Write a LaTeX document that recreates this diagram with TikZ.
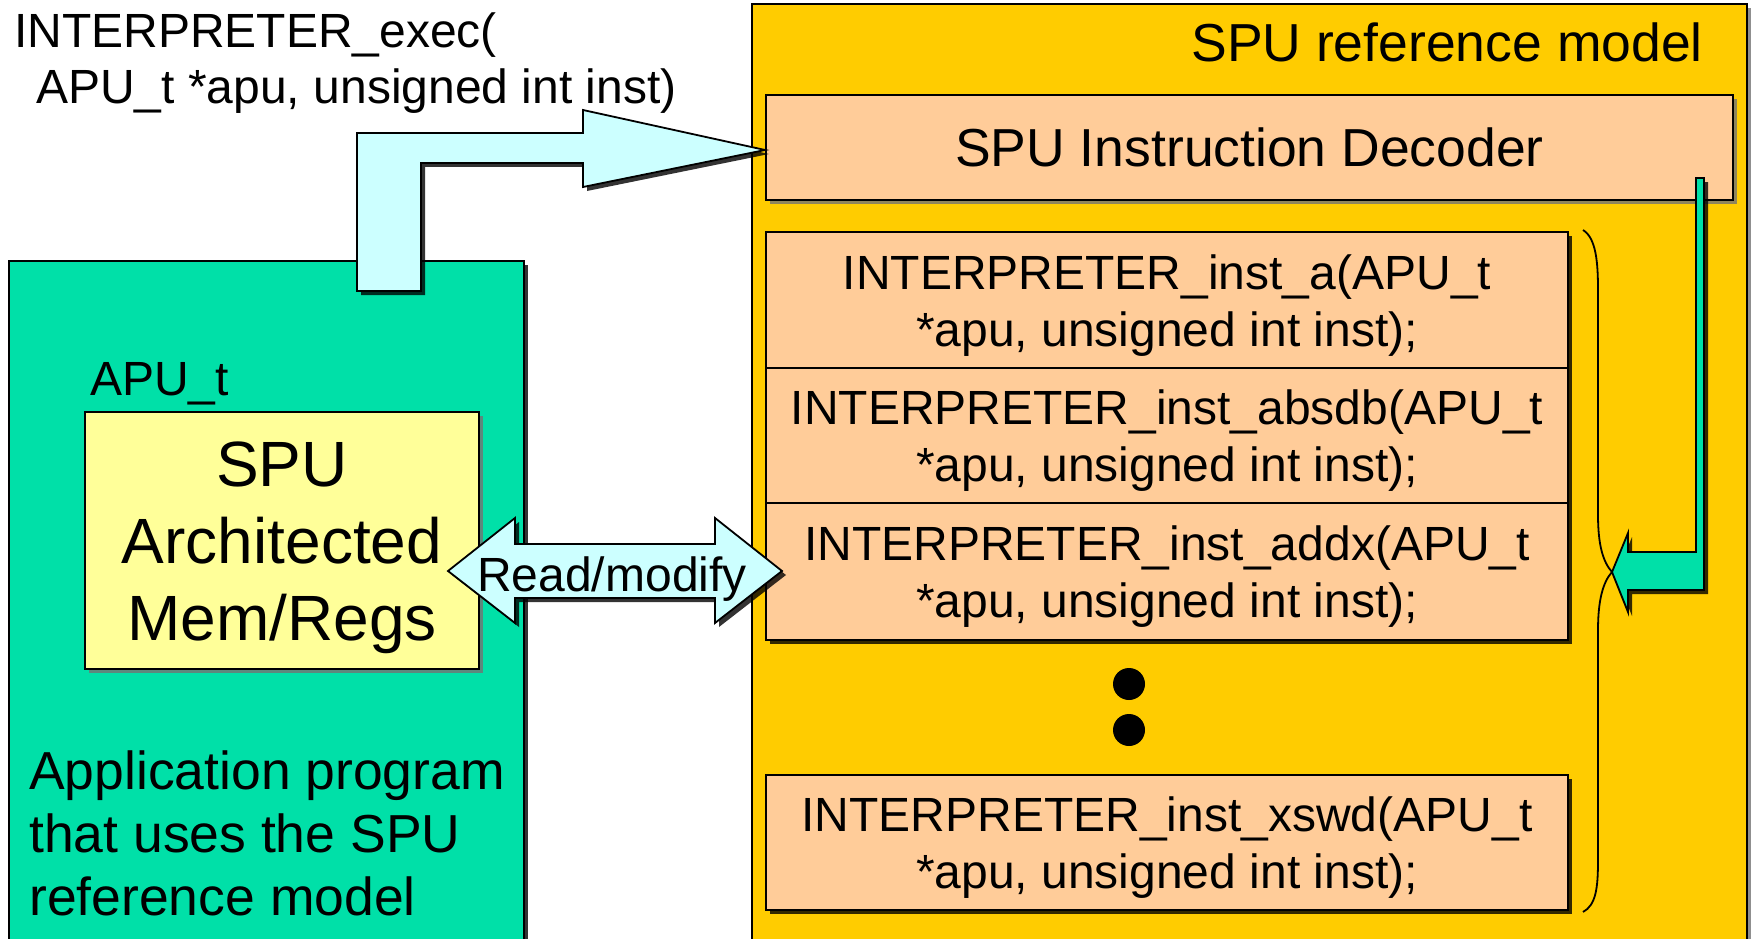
\documentclass[tikz,border=0pt]{standalone}
\usepackage{fontspec}
\setmainfont{Liberation Sans}
\usetikzlibrary{shadows,calc}
\definecolor{gold}{HTML}{FFCC00}
\definecolor{appgreen}{HTML}{00E0A8}
\definecolor{icecyan}{HTML}{CCFFFF}
\definecolor{peach}{HTML}{FFCC99}
\definecolor{paleyellow}{HTML}{FFFF99}
\tikzset{
  outline/.style={draw=black, line width=1.8pt},
  darkshadow/.style={drop shadow={shadow xshift=4pt, shadow yshift=-4pt, fill=black, opacity=0.8}},
  greyshadow/.style={drop shadow={shadow xshift=4pt, shadow yshift=-4pt, fill=black!55, opacity=0.8}},
  panel/.style={rectangle, outline, inner sep=0pt},
  instbox/.style={panel, fill=peach, darkshadow, minimum width=802pt, align=center,
    font=\fontsize{48}{57}\selectfont, text height=92pt, text depth=0pt},
  bodytext/.style={inner sep=0pt, font=\fontsize{48}{57}\selectfont},
  bigtext/.style={inner sep=0pt, font=\fontsize{53.5}{63}\selectfont},
  blockarrow/.style={outline, line join=miter},
  dot/.style={circle, fill=black, inner sep=0pt, minimum size=32pt},
}
\begin{document}
\begin{tikzpicture}[x=1pt, y=-1pt]
\path[use as bounding box, clip] (0,0) rectangle (1754,939);
\fill[white] (0,0) rectangle (1754,939);

% application program panel
\node[panel, fill=appgreen, darkshadow, minimum width=515pt, minimum height=684pt] (app) at (266.5,603) {};
\node[bigtext, anchor=base west, align=left] (apptext) at (29,915)
  {Application program\\that uses the SPU\\reference model};

% reference model panel
\node[panel, fill=gold, greyshadow, minimum width=995pt, minimum height=941pt] (model) at (1249.5,474.5) {};
\node[bigtext, anchor=base east] (modeltitle) at (1703,62) {SPU reference model};

% decoder
\node[panel, fill=peach, greyshadow, minimum width=967pt, minimum height=105pt,
  font=\fontsize{53.5}{63}\selectfont, text height=38pt, text depth=0pt] (dec) at (1249.5,147.5)
  {SPU Instruction Decoder};

% instruction handlers
\node[instbox, minimum height=136pt] (ia) at (1167,300)
  {INTERPRETER\_inst\_a(APU\_t\\*apu, unsigned int inst);};
\node[instbox, minimum height=135pt] (iabsdb) at (1167,435.5)
  {INTERPRETER\_inst\_absdb(APU\_t\\*apu, unsigned int inst);};
\node[instbox, minimum height=137pt] (iaddx) at (1167,571.5)
  {INTERPRETER\_inst\_addx(APU\_t\\*apu, unsigned int inst);};
\node[instbox, minimum height=135pt] (ixswd) at (1167,842.5)
  {INTERPRETER\_inst\_xswd(APU\_t\\*apu, unsigned int inst);};

% ellipsis dots
\node[dot] (dota) at (1129,684) {};
\node[dot] (dotb) at (1129,730) {};

% architected state
\node[bodytext, anchor=base west] (apulabel) at (90,395) {APU\_t};
\node[panel, fill=paleyellow, greyshadow, minimum width=394pt, minimum height=257pt,
  align=center, font=\fontsize{64}{77}\selectfont, text height=200pt, text depth=0pt] (regs) at (282,540.5)
  {SPU\\Architected\\Mem/Regs};

% call into the model
\node[bodytext, anchor=base west, align=left, font=\fontsize{48}{56}\selectfont] (calltext) at (14,104)
  {INTERPRETER\_exec(\\\hspace*{22pt}APU\_t *apu, unsigned int inst)};
\path[blockarrow, fill=icecyan, darkshadow]
  (357,291) -- (357,133) -- (583,133) -- (583,110) -- (dec.west |- 0,150)
  -- (583,187) -- (583,163) -- (421,163) -- (421,291) -- cycle;

% read/modify double arrow
\path[blockarrow, fill=icecyan, darkshadow]
  (448,571) -- (515,518) -- (515,544) -- (715,544) -- (715,518) -- (782,571)
  -- (715,623) -- (715,598) -- (515,598) -- (515,623) -- cycle;
\node[bodytext, anchor=base] (rmtext) at (612,591) {Read/modify};

% dispatch arrow from decoder
\coordinate (dispatch) at (1612,572);
\path[blockarrow, fill=appgreen, darkshadow]
  (1696,178) -- (1704,178) -- (1704,590) -- (1628,590) -- (1628,612) -- (dispatch)
  -- (1628,533) -- (1628,552) -- (1696,552) -- cycle;

% brace grouping the handlers
\draw[line width=1.8pt]
  (1583,230) .. controls (1596,238) and (1598,262) .. (1598,290)
  -- (1598,515) .. controls (1598,545) and (1603,562) .. (dispatch)
  .. controls (1603,582) and (1598,600) .. (1598,630)
  -- (1598,860) .. controls (1598,888) and (1596,905) .. (1583,912);
\end{tikzpicture}
\end{document}
